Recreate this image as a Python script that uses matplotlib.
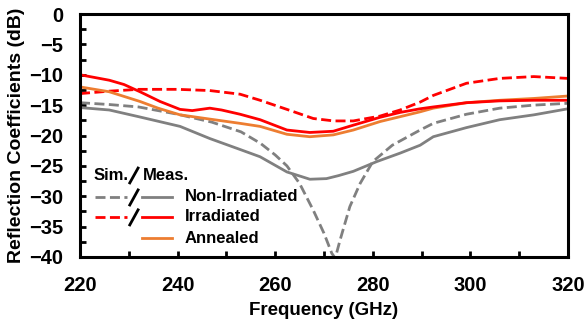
import matplotlib
matplotlib.use("Agg")
import matplotlib.pyplot as plt
from matplotlib.lines import Line2D
from matplotlib.ticker import MultipleLocator

plt.rcParams['font.family'] = ['Liberation Sans', 'DejaVu Sans']
plt.rcParams['font.weight'] = 'bold'

# simulated, non-irradiated
f_sim_non = [220, 226, 232, 240, 247, 253, 257, 260, 262.4, 265, 267.8, 270, 271.6, 272.3,
             273.3, 275.3, 277.4, 280, 284, 289.7, 292.4, 299.2, 306, 313, 320]
s_sim_non = [-14.6, -14.9, -15.3, -16.5, -17.8, -19.4, -21.3, -23.2, -25.0, -27.9, -32.3, -36.1,
             -39.4, -40.2, -37.2, -31.7, -27.9, -24.3, -21.6, -19.1, -18.0, -16.5, -15.5, -15.0, -14.7]

# measured, non-irradiated
f_meas_non = [220, 226, 232, 240.5, 246.6, 252.8, 256.9, 262.4, 267.1, 270.5, 273, 276, 280.8,
              285.6, 289.7, 292.4, 299.2, 306, 313, 320]
s_meas_non = [-15.4, -15.8, -16.9, -18.5, -20.5, -22.3, -23.5, -26.0, -27.2, -27.1, -26.6, -25.9,
              -24.3, -22.9, -21.6, -20.2, -18.7, -17.4, -16.6, -15.6]

# simulated, irradiated
f_sim_irr = [220, 226, 232, 240, 246.6, 252.8, 256.9, 262.4, 267.8, 272, 276, 281.5, 285.6,
             289.7, 292.4, 299.2, 306, 313, 320]
s_sim_irr = [-13.1, -12.7, -12.4, -12.4, -12.6, -13.2, -14.2, -15.7, -17.2, -17.6, -17.6, -16.8,
             -15.8, -14.5, -13.4, -11.4, -10.6, -10.3, -10.6]

# measured, irradiated
f_meas_irr = [220, 226, 229, 232.3, 236.4, 240.5, 243, 246.6, 249, 252.8, 256.9, 262.4, 267.1,
              271.9, 276, 281.5, 285.6, 289.7, 292.4, 299.2, 306, 313, 320]
s_meas_irr = [-10.0, -10.9, -11.6, -12.8, -14.4, -15.7, -15.9, -15.5, -15.8, -16.5, -17.4, -19.1,
              -19.5, -19.3, -18.3, -17.0, -16.2, -15.6, -15.3, -14.6, -14.3, -14.2, -14.2]

# measured, annealed
f_meas_ann = [220, 226, 232.3, 236, 240.5, 246.6, 252.8, 256.9, 262.4, 267.1, 271.9, 276, 281.5,
              285.6, 289.7, 292.4, 299.2, 306, 313, 320]
s_meas_ann = [-12.0, -12.8, -14.4, -15.5, -16.6, -17.3, -18.0, -18.5, -19.8, -20.2, -19.9, -19.1,
              -17.7, -16.9, -16.1, -15.5, -14.6, -14.2, -13.9, -13.5]

gray = '#808080'
red = '#ff0000'
orange = '#ed7d31'
dash = (3.6, 1.6)

fig = plt.figure(figsize=(5.87, 3.26), dpi=100)
ax = fig.add_axes([0.1363, 0.2117, 0.8313, 0.7453])

lw = 2.0
ax.plot(f_sim_non, s_sim_non, color=gray, lw=lw, dashes=dash)
ax.plot(f_meas_non, s_meas_non, color=gray, lw=lw)
ax.plot(f_sim_irr, s_sim_irr, color=red, lw=lw, dashes=dash)
ax.plot(f_meas_ann, s_meas_ann, color=orange, lw=lw)
ax.plot(f_meas_irr, s_meas_irr, color=red, lw=lw)

ax.set_xlim(220, 320)
ax.set_ylim(-40, 0)
ax.xaxis.set_major_locator(MultipleLocator(20))
ax.xaxis.set_minor_locator(MultipleLocator(10))
ax.yaxis.set_major_locator(MultipleLocator(5))
ax.yaxis.set_minor_locator(MultipleLocator(2.5))
ax.tick_params(which='both', direction='in', length=4.5, width=2, labelsize=14.5,
               top=False, right=False)
ax.tick_params(axis='x', pad=14)
ax.tick_params(axis='y', pad=12)
for sp in ax.spines.values():
    sp.set_linewidth(2.2)

ax.set_xlabel('Frequency (GHz)', fontsize=13.5, fontweight='bold', labelpad=5)
ax.set_ylabel('Reflection Coefficients (dB)', fontsize=14, fontweight='bold', labelpad=3)

# legend drawn by hand: sim / meas pairs
tr = ax.transAxes
fs = 12
ax.text(0.027, 0.337, 'Sim.', transform=tr, fontsize=fs, fontweight='bold', va='center')
ax.add_line(Line2D([0.102, 0.119], [0.305, 0.366], transform=tr, color='black', lw=2))
ax.text(0.129, 0.337, 'Meas.', transform=tr, fontsize=fs, fontweight='bold', va='center')

rows = [('Non-Irradiated', gray, True, 0.247),
        ('Irradiated', red, True, 0.165),
        ('Annealed', orange, False, 0.078)]
for label, col, has_sim, y in rows:
    if has_sim:
        ax.add_line(Line2D([0.031, 0.096], [y, y], transform=tr, color=col, lw=lw, dashes=dash))
        ax.add_line(Line2D([0.102, 0.119], [y - 0.033, y + 0.029], transform=tr,
                           color='black', lw=2))
    ax.add_line(Line2D([0.127, 0.189], [y, y], transform=tr, color=col, lw=lw))
    ax.text(0.215, y, label, transform=tr, fontsize=fs, fontweight='bold', va='center')

fig.savefig('out.png', dpi=100)
